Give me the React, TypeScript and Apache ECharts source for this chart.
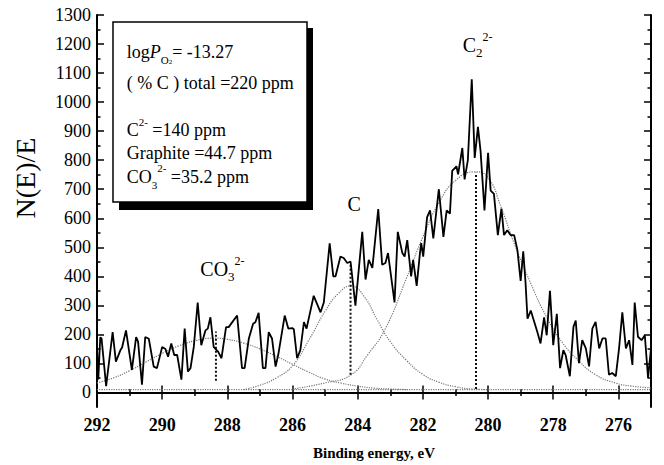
import React, { useEffect, useRef } from 'react';
import * as echarts from 'echarts';

// Measured XPS spectrum (binding energy, eV -> N(E)/E)
const spectrumE = [
  292.0, 291.96, 291.9, 291.86, 291.72, 291.52, 291.42, 291.28, 291.23, 291.11,
  290.93, 290.8, 290.74, 290.62, 290.52, 290.41, 290.26, 290.16, 290.0, 289.9,
  289.82, 289.72, 289.63, 289.54, 289.41, 289.31, 289.21, 289.13, 289.03, 288.91,
  288.8, 288.67, 288.6, 288.52, 288.42, 288.28, 288.18, 288.04, 287.96, 287.7,
  287.55, 287.47, 287.34, 287.21, 287.14, 287.04, 286.91, 286.83, 286.73, 286.63,
  286.52, 286.44, 286.24, 286.13, 286.01, 285.96, 285.86, 285.76, 285.65, 285.57,
  285.35, 285.14, 285.04, 284.86, 284.75, 284.68, 284.53, 284.43, 284.32, 284.22,
  284.07, 283.86, 283.76, 283.66, 283.55, 283.37, 283.25, 283.15, 283.07, 282.87,
  282.77, 282.63, 282.56, 282.48, 282.36, 282.3, 282.19, 282.09, 282.05, 281.99,
  281.87, 281.78, 281.68, 281.51, 281.37, 281.27, 281.17, 281.1, 280.97, 280.92,
  280.79, 280.72, 280.62, 280.5, 280.41, 280.31, 280.23, 280.11, 280.0, 279.92,
  279.82, 279.7, 279.59, 279.51, 279.41, 279.31, 279.2, 279.1, 279.0, 278.92,
  278.85, 278.79, 278.69, 278.49, 278.39, 278.28, 278.2, 278.16, 278.1, 278.0,
  277.89, 277.79, 277.69, 277.62, 277.49, 277.38, 277.31, 277.21, 277.11, 277.0,
  276.9, 276.8, 276.7, 276.59, 276.49, 276.39, 276.29, 276.19, 276.08, 275.98,
  275.88, 275.77, 275.67, 275.57, 275.5, 275.4, 275.29, 275.19, 275.09, 275.0,
];
const spectrumCounts = [
  160, 45, 190, 186, 22, 208, 106, 146, 155, 214,
  78, 191, 175, 27, 191, 185, 89, 84, 157, 150,
  123, 169, 129, 129, 44, 220, 72, 84, 157, 310,
  163, 214, 220, 259, 157, 140, 118, 225, 225, 265,
  84, 84, 186, 237, 242, 274, 84, 84, 208, 186,
  89, 129, 265, 220, 222, 218, 118, 146, 242, 220,
  333, 276, 310, 514, 400, 400, 468, 463, 446, 451,
  299, 553, 389, 457, 429, 632, 440, 446, 480, 310,
  553, 480, 468, 525, 400, 457, 367, 480, 514, 468,
  604, 627, 531, 700, 536, 627, 616, 763, 779, 751,
  842, 734, 800, 1079, 808, 915, 831, 627, 825, 695,
  684, 542, 633, 542, 559, 542, 542, 491, 384, 486,
  378, 254, 282, 209, 169, 259, 197, 259, 350, 163,
  271, 84, 146, 129, 56, 226, 248, 101, 180, 152,
  90, 220, 243, 152, 186, 186, 61, 67, 56, 152,
  276, 152, 180, 95, 310, 192, 180, 197, 50, 152,
];

// Fitted components (dotted curves)
const fitCO3E = [292, 291.5, 291, 290.5, 290, 289.5, 289, 288.4, 288, 287.5, 287, 286.5, 286, 285.5, 285, 284.5, 284, 283.5, 283, 282.5];
const fitCO3V = [33, 50, 75, 105, 135, 160, 178, 187, 183, 170, 150, 125, 97, 70, 46, 32, 22, 15, 12, 10];
const fitGraphiteE = [287.5, 287, 286.5, 286, 285.5, 285, 284.6, 284.2, 283.8, 283.4, 283, 282.5, 282, 281.5, 281, 280.5, 280];
const fitGraphiteV = [10, 25, 50, 92, 180, 280, 340, 367, 330, 250, 175, 110, 62, 35, 20, 12, 10];
const fitC2E = [286, 285, 284.2, 283.7, 283.15, 282.5, 282, 281.5, 281, 280.4, 280, 279.6, 279.2, 278.7, 278.2, 277.7, 277.2, 276.7, 276.1, 275.6, 275];
const fitC2V = [12, 33, 61, 129, 220, 395, 536, 655, 730, 760, 740, 638, 514, 378, 259, 169, 107, 61, 33, 22, 16];
const baselineE = [292, 275];
const baselineV = [10, 10];

// Peak position markers (vertical dotted lines)
const peakE = [288.35, 284.22, 280.37];
const peakLow = [40, 61, 12];
const peakHigh = [210, 441, 757];

// Peak annotations
const annotationE = [288.83, 284.31, 280.78];
const annotationV = [425, 648, 1195];
const annotationText = ['{n|CO}{sub|3}{sup|2-}', '{n|C}', '{n|C}{sub|2}{sup|2-}'];

// Axis ticks
const xTickLabels = [292, 290, 288, 286, 284, 282, 280, 278, 276];
const xMinorTicks = [291, 289, 287, 285, 283, 281, 279, 277];
const yTickLabels = [0, 100, 200, 300, 400, 500, 600, 700, 800, 900, 1000, 1100, 1200, 1300];
const yMinorTicks = [50, 150, 250, 350, 450, 550, 650, 750, 850, 950, 1050, 1150, 1250];

const SERIF = "'Liberation Serif', 'Times New Roman', serif";

function zip(a: number[], b: number[]) {
  return a.map((v, i) => [v, b[i]]);
}

export default function App() {
  const ref = useRef<HTMLDivElement>(null);
  useEffect(() => {
    if (!ref.current) return;
    const chart = echarts.init(ref.current, undefined, { renderer: 'svg' });

    const axisLine = { show: true, lineStyle: { color: '#000', width: 2 } };
    const xCommon = { type: 'value', min: 275, max: 292, inverse: true, splitLine: { show: false } };
    const yCommon = { type: 'value', min: -50, max: 1300, splitLine: { show: false } };
    const majorTick = (vals: number[]) => ({ show: true, inside: true, length: 7, customValues: vals, lineStyle: { color: '#000', width: 1.5 } });
    const minorTick = (vals: number[]) => ({ show: true, inside: true, length: 3.5, customValues: vals, lineStyle: { color: '#000', width: 1.5 } });

    const fitStyle = { type: 'dotted', color: '#777', width: 1.2 };
    const fitSeries = (name: string, e: number[], v: number[]) => ({
      type: 'line', name, data: zip(e, v), showSymbol: false, smooth: true,
      lineStyle: fitStyle, silent: true, z: 2,
    });

    const peakSeries = peakE.map((e, i) => ({
      type: 'line', data: [[e, peakLow[i]], [e, peakHigh[i]]], showSymbol: false,
      lineStyle: { type: 'dotted', color: '#111', width: 2 }, silent: true, z: 3,
    }));

    const lineRich = {
      n: { fontSize: 18, fontFamily: SERIF, lineHeight: 28, verticalAlign: 'middle', fill: '#000' },
      i: { fontSize: 18, fontFamily: SERIF, fontStyle: 'italic', lineHeight: 28, verticalAlign: 'middle', fill: '#000' },
      sub: { fontSize: 11, fontFamily: SERIF, lineHeight: 13, verticalAlign: 'bottom', fill: '#000' },
      ss: { fontSize: 7, fontFamily: SERIF, lineHeight: 8, verticalAlign: 'bottom', fill: '#000' },
      sup: { fontSize: 11, fontFamily: SERIF, lineHeight: 15, verticalAlign: 'top', fill: '#000' },
    };
    const boxLines = [
      { y: 51.7, text: '{n|log}{i|P}{sub|O}{ss|2}{n|= -13.27}' },
      { y: 83.3, text: '{n|( % C ) total =220 ppm}' },
      { y: 130, text: '{n|C}{sup|2-}{n| =140 ppm}' },
      { y: 153.3, text: '{n|Graphite =44.7 ppm}' },
      { y: 176.7, text: '{n|CO}{sub|3}{sup|2-}{n| =35.2 ppm}' },
    ];

    chart.setOption({
      animation: false,
      backgroundColor: '#fff',
      grid: { left: 97, right: 13, top: 15, bottom: 52 },
      xAxis: [
        {
          ...xCommon, position: 'bottom', axisLine,
          axisTick: majorTick(xTickLabels),
          axisLabel: { customValues: xTickLabels, formatter: (v: number) => String(v), fontFamily: SERIF, fontWeight: 'bold', fontSize: 18, color: '#000', margin: 9 },
          name: 'Binding energy, eV', nameLocation: 'middle', nameGap: 38,
          nameTextStyle: { fontFamily: SERIF, fontWeight: 'bold', fontSize: 15, color: '#000' },
        },
        { ...xCommon, position: 'bottom', axisLine: { show: false }, axisTick: minorTick(xMinorTicks), axisLabel: { show: false } },
        { ...xCommon, position: 'top', axisLine, axisTick: majorTick(xTickLabels), axisLabel: { show: false } },
        { ...xCommon, position: 'top', axisLine: { show: false }, axisTick: minorTick(xMinorTicks), axisLabel: { show: false } },
      ],
      yAxis: [
        {
          ...yCommon, position: 'left', axisLine,
          axisTick: majorTick(yTickLabels),
          axisLabel: { customValues: yTickLabels, formatter: (v: number) => String(v), fontFamily: SERIF, fontSize: 18, color: '#000', margin: 6 },
        },
        { ...yCommon, position: 'left', axisLine: { show: false }, axisTick: minorTick(yMinorTicks), axisLabel: { show: false } },
        { ...yCommon, position: 'right', axisLine, axisTick: majorTick(yTickLabels), axisLabel: { show: false } },
        { ...yCommon, position: 'right', axisLine: { show: false }, axisTick: minorTick(yMinorTicks), axisLabel: { show: false } },
      ],
      series: [
        fitSeries('baseline', baselineE, baselineV),
        fitSeries('CO3', fitCO3E, fitCO3V),
        fitSeries('Graphite', fitGraphiteE, fitGraphiteV),
        fitSeries('C2', fitC2E, fitC2V),
        ...peakSeries,
        {
          type: 'line', name: 'N(E)/E', data: zip(spectrumE, spectrumCounts), showSymbol: false,
          lineStyle: { color: '#000', width: 1.8 }, z: 5,
        },
        {
          type: 'scatter', symbolSize: 0, itemStyle: { color: '#000' }, z: 6, silent: true,
          data: annotationE.map((e, i) => ({ value: [e, annotationV[i]], name: annotationText[i] })),
          label: {
            show: true, position: 'right', distance: 0, formatter: '{b}', color: '#000', opacity: 1,
            rich: {
              n: { fontSize: 20, fontFamily: SERIF, color: '#000', lineHeight: 28, verticalAlign: 'middle' },
              sub: { fontSize: 13, fontFamily: SERIF, color: '#000', lineHeight: 14, verticalAlign: 'bottom' },
              sup: { fontSize: 12, fontFamily: SERIF, color: '#000', lineHeight: 14, verticalAlign: 'top' },
            },
          },
        },
      ],
      graphic: [
        {
          type: 'text', x: 25.5, y: 178, rotation: Math.PI / 2,
          style: { text: 'N(E)/E', font: `28px ${SERIF}`, fill: '#000', align: 'center', verticalAlign: 'middle' },
        },
        { type: 'rect', shape: { x: 119, y: 28, width: 194, height: 182 }, style: { fill: '#000' }, z: 10 },
        { type: 'rect', shape: { x: 113, y: 22, width: 194, height: 180 }, style: { fill: '#fff', stroke: '#000', lineWidth: 1.5 }, z: 11 },
        ...boxLines.map((l) => ({
          type: 'text', x: 126.7, y: l.y, z: 12,
          style: { text: l.text, rich: lineRich, align: 'left', verticalAlign: 'middle', fill: '#000', fontFamily: SERIF, fontSize: 18 },
        })),
      ],
    });
    return () => chart.dispose();
  }, []);
  return (
    <div
      ref={ref}
      style={{ position: 'fixed', left: 0, top: 0, width: 664, height: 465, background: '#fff' }}
    />
  );
}
